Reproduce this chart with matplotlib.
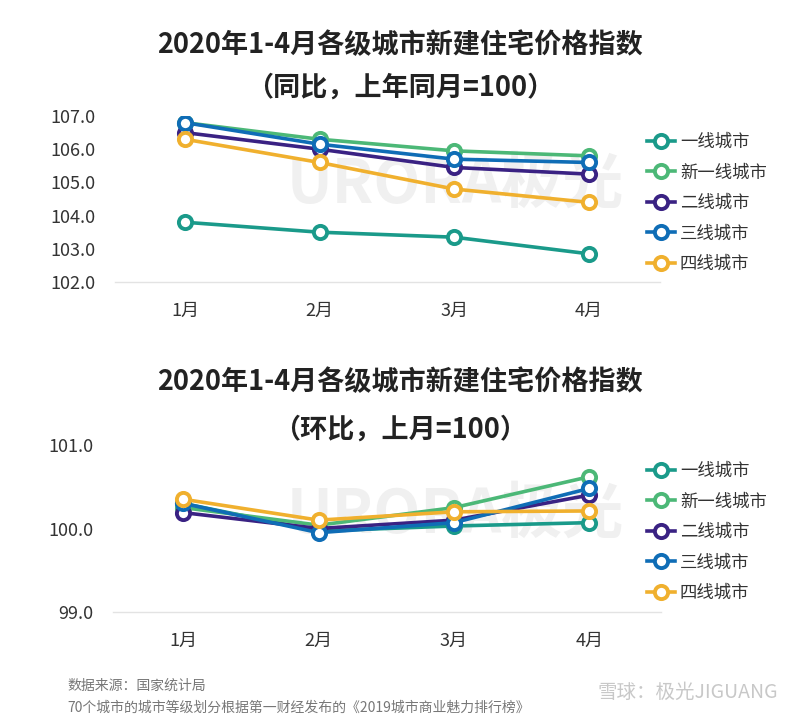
import matplotlib
matplotlib.use("Agg")
import matplotlib.pyplot as plt

plt.rcParams['font.family'] = ['Noto Sans CJK SC', 'DejaVu Sans']

months = ["1月", "2月", "3月", "4月"]
series_names = ["一线城市", "新一线城市", "二线城市", "三线城市", "四线城市"]
colors = ["#1a9a8a", "#4cb877", "#3a2283", "#0f6db6", "#f0b02e"]

# 同比 (YoY)
yoy_tier1 = [103.8, 103.5, 103.35, 102.85]
yoy_newtier1 = [106.8, 106.3, 105.95, 105.8]
yoy_tier2 = [106.5, 106.0, 105.45, 105.25]
yoy_tier3 = [106.8, 106.15, 105.7, 105.6]
yoy_tier4 = [106.3, 105.6, 104.8, 104.4]

# 环比 (MoM)
mom_tier1 = [100.3, 99.97, 100.03, 100.07]
mom_newtier1 = [100.25, 100.04, 100.25, 100.62]
mom_tier2 = [100.19, 100.0, 100.1, 100.4]
mom_tier3 = [100.3, 99.95, 100.07, 100.48]
mom_tier4 = [100.35, 100.1, 100.2, 100.21]

yoy_ticks = [102.0, 103.0, 104.0, 105.0, 106.0, 107.0]
mom_ticks = [99.0, 100.0, 101.0]

title_main = "2020年1-4月各级城市新建住宅价格指数"
sub_yoy = "（同比，上年同月=100）"
sub_mom = "（环比，上月=100）"

fig = plt.figure(figsize=(8, 7.2), dpi=100)
fig.patch.set_facecolor("white")

def draw(ax, data, ticks, legend_top):
    x = list(range(len(months)))
    handles = []
    for vals, c, name in zip(data, colors, series_names):
        h, = ax.plot(x, vals, color=c, lw=2.6, marker='o', ms=9.5,
                     mfc='white', mec=c, mew=2.8, label=name, zorder=3)
        handles.append(h)
    ax.set_xlim(-0.52, 3.53)
    ax.set_ylim(ticks[0], ticks[-1])
    ax.set_yticks(ticks)
    ax.set_yticklabels([f"{t:.1f}" for t in ticks], fontsize=13, color="#333333")
    ax.set_xticks(x)
    ax.set_xticklabels(months, fontsize=13, color="#333333")
    for s in ["top", "right", "left"]:
        ax.spines[s].set_visible(False)
    ax.spines["bottom"].set_color("#e3e3e3")
    ax.spines["bottom"].set_linewidth(1.0)
    ax.tick_params(axis='both', length=0)
    ax.tick_params(axis='x', pad=14)
    ax.tick_params(axis='y', pad=14)
    ax.set_facecolor("none")
    fig.legend(handles=handles, loc="upper left",
               bbox_to_anchor=(640 / 800, 1 - legend_top / 720),
               frameon=False, fontsize=12.5, handlelength=1.6,
               handletextpad=0.3, labelspacing=0.72, borderaxespad=0,
               labelcolor="#333333")

# watermark (behind everything)
for yc in [185, 515]:
    fig.text(455 / 800, 1 - yc / 720, "URORA极光", fontsize=44, fontweight='bold',
             color="#f0f0f0", ha='center', va='center', zorder=-5)

ax1 = fig.add_axes([115 / 800, 1 - 282 / 720, 545 / 800, 166 / 720])
draw(ax1, [yoy_tier1, yoy_newtier1, yoy_tier2, yoy_tier3, yoy_tier4], yoy_ticks, 126)

ax2 = fig.add_axes([113 / 800, 1 - 612 / 720, 548 / 800, 167 / 720])
draw(ax2, [mom_tier1, mom_newtier1, mom_tier2, mom_tier3, mom_tier4], mom_ticks, 455)

for yc, txt in [(45, title_main), (88, sub_yoy), (382, title_main), (430, sub_mom)]:
    fig.text(400 / 800, 1 - yc / 720, txt, fontsize=19.5, fontweight='bold',
             color="#222222", ha='center', va='center')

fig.text(67 / 800, 1 - 686 / 720, "数据来源：国家统计局", fontsize=10,
         color="#777777", ha='left', va='center')
fig.text(67 / 800, 1 - 708 / 720,
         "70个城市的城市等级划分根据第一财经发布的《2019城市商业魅力排行榜》",
         fontsize=10, color="#777777", ha='left', va='center')
fig.text(778 / 800, 1 - 692 / 720, "雪球：极光JIGUANG", fontsize=14,
         color="#c8c8c8", ha='right', va='center')

fig.savefig("out.png", dpi=100, facecolor="white")
